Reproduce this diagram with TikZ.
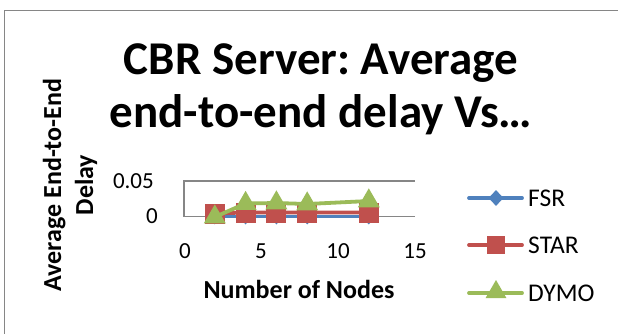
\documentclass[tikz,border=0pt]{standalone}
\usepackage{fontspec}
\setmainfont{Carlito}
\frenchspacing
\usetikzlibrary{shapes.geometric}
\definecolor{fsrblue}{HTML}{4F81BD}
\definecolor{starred}{HTML}{C0504D}
\definecolor{dymogreen}{HTML}{9BBB59}
\definecolor{axisgray}{HTML}{868686}
\tikzset{
  charttitle/.style={font=\bfseries\fontsize{47}{53}\selectfont, anchor=base, inner sep=0},
  ticklabel/.style={font=\fontsize{23}{28}\selectfont, inner sep=0},
  axistitle/.style={font=\bfseries\fontsize{26}{32}\selectfont, inner sep=0},
  legendtext/.style={font=\fontsize{25.5}{30}\selectfont, anchor=base west, inner sep=0},
  series/.style={line width=3.8pt, line cap=round, line join=round},
  fsrmark/.style={diamond, fill=fsrblue, minimum width=15pt, minimum height=16pt, inner sep=0},
  starmark/.style={rectangle, fill=starred, minimum width=20pt, minimum height=20pt, inner sep=0},
  dymomark/.style={isosceles triangle, isosceles triangle apex angle=60, shape border rotate=90,
    fill=dymogreen, minimum width=19pt, minimum height=19pt, inner sep=0}
}
\begin{document}
\begin{tikzpicture}[x=1pt, y=-1pt]
\useasboundingbox (0,0) rectangle (618,334);
\clip (0,0) rectangle (618,334);
\fill[white] (0,0) rectangle (618,334);
% chart frame
\draw[axisgray, line width=1.2pt] (4.5,10.5) rectangle (640,360);

% title
\node[charttitle] (t1) at (321,75) {CBR Server: Average};
\node[charttitle] (t2) at (321,128) {end-to-end delay Vs\ldots};

% axis title (y)
\node[axistitle, rotate=90, align=center] (ytitle) at (70,185) {Average End-to-End\\Delay};

% plot frame
\coordinate (o) at (184,216.5);
\coordinate (xr) at (415,216.5);
\coordinate (yt) at (184,181);
\coordinate (gr) at (415,181);
\draw[axisgray, line width=1.2pt] (xr) -- (o) -- (yt) -- (gr);

% tick labels
\node[ticklabel, anchor=base east] (y0) at (158,223) {0};
\node[ticklabel, anchor=base east] (y5) at (154,188) {0.05};
\node[ticklabel, anchor=base] (x0) at (185,258) {0};
\node[ticklabel, anchor=base] (x5) at (261,258) {5};
\node[ticklabel, anchor=base] (x10) at (338,258) {10};
\node[ticklabel, anchor=base] (x15) at (415,258) {15};
\node[axistitle, anchor=base] (xtitle) at (299,298) {Number of Nodes};

% data points: x = 184 + 15.4*n, y = 216.5 - 710*v
% FSR
\coordinate (f2) at (214.8,216.5);
\coordinate (f4) at (245.6,216.5);
\coordinate (f6) at (276.4,216.5);
\coordinate (f8) at (307.2,216.5);
\coordinate (f12) at (368.8,216.5);
\draw[series, fsrblue] (f2) -- (f4) -- (f6) -- (f8) -- (f12);
\foreach \p in {f2,f4,f6,f8,f12} \node[fsrmark] at (\p) {};
% STAR
\coordinate (s2) at (214.8,213.5);
\coordinate (s4) at (245.6,212.5);
\coordinate (s6) at (276.4,212.5);
\coordinate (s8) at (307.2,212.5);
\coordinate (s12) at (368.8,212.5);
\draw[series, starred] (s2) -- (s4) -- (s6) -- (s8) -- (s12);
\foreach \p in {s2,s4,s6,s8,s12} \node[starmark] at (\p) {};
% DYMO
\coordinate (d2) at (214.8,217);
\coordinate (d4) at (245.6,203.5);
\coordinate (d6) at (276.4,203);
\coordinate (d8) at (307.2,204);
\coordinate (d12) at (368.8,201);
\draw[series, dymogreen] (d2) -- (d4) -- (d6) -- (d8) -- (d12);
\foreach \p in {d2,d4,d6,d8,d12} \node[dymomark] at (\p) {};

% legend
\coordinate (la1) at (469,198);  \coordinate (lb1) at (522,198);
\coordinate (la2) at (469,245);  \coordinate (lb2) at (522,245);
\coordinate (la3) at (469,293);  \coordinate (lb3) at (522,293);
\draw[series, fsrblue] (la1) -- (lb1);
\node[fsrmark] (lm1) at (496,198) {};
\draw[series, starred] (la2) -- (lb2);
\node[starmark, minimum width=18pt, minimum height=18pt] (lm2) at (496,245) {};
\draw[series, dymogreen] (la3) -- (lb3);
\node[dymomark, minimum width=17pt, minimum height=18pt] (lm3) at (496,292) {};
\node[legendtext] (l1) at (528,206) {FSR};
\node[legendtext] (l2) at (528,253) {STAR};
\node[legendtext] (l3) at (528,301) {DYMO};
\end{tikzpicture}
\end{document}
